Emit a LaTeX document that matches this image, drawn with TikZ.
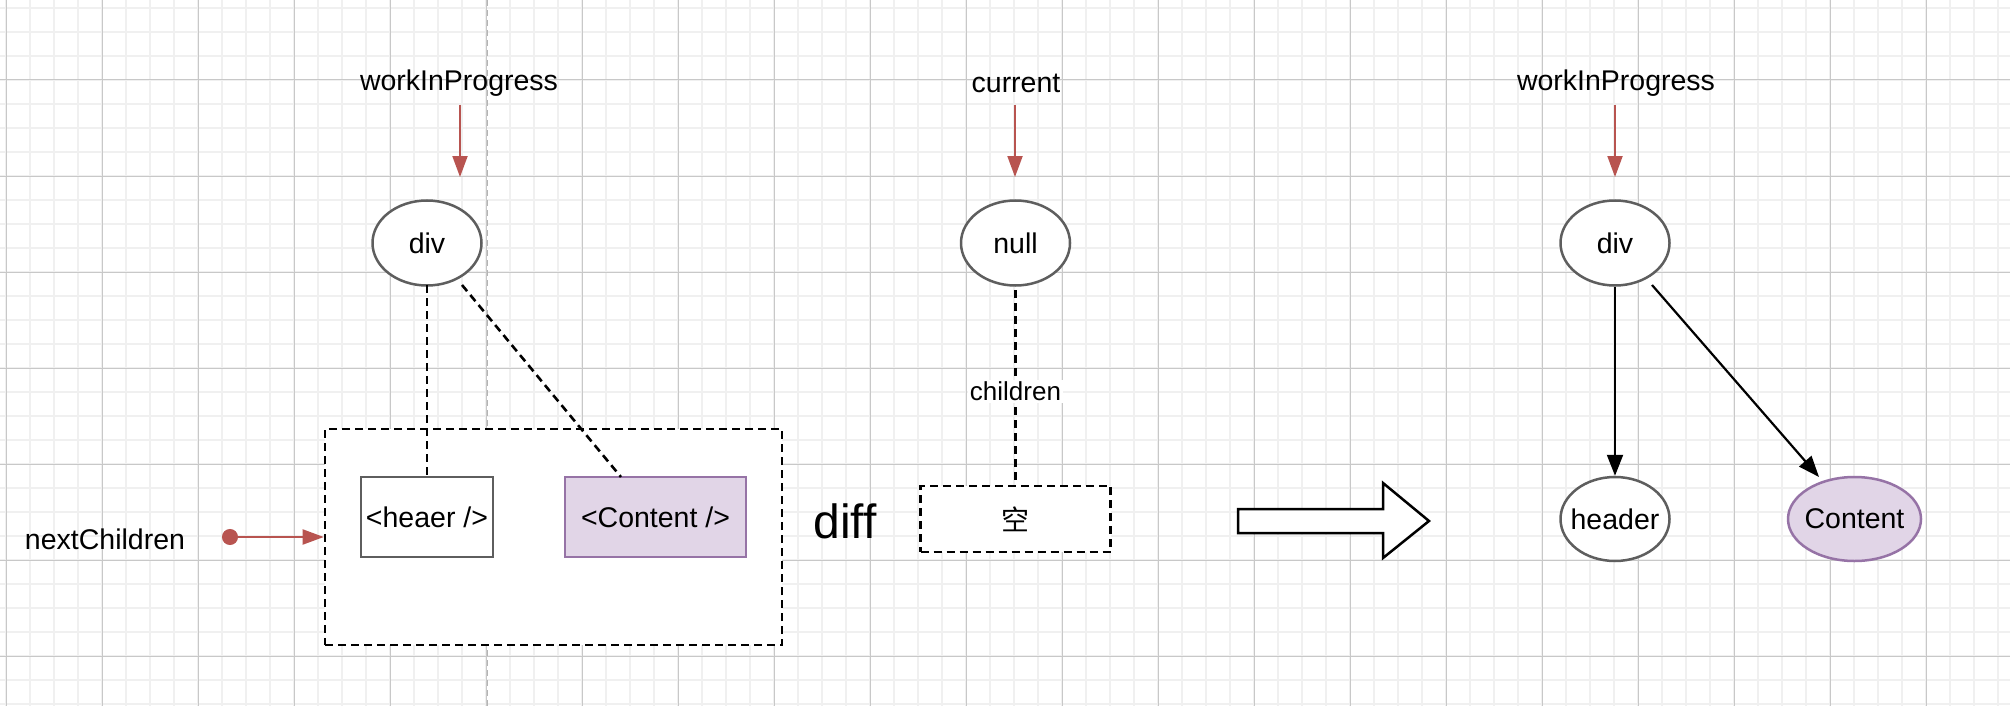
\documentclass[tikz,border=0pt]{standalone}
\usepackage{fontspec}
\setmainfont{Liberation Sans}
\newfontfamily\cjk{Noto Sans CJK SC}
\usetikzlibrary{arrows.meta,shapes.geometric}
\definecolor{gridmajor}{HTML}{C8C8C8}
\definecolor{gridminor}{HTML}{F0F0F0}
\definecolor{redline}{HTML}{B85450}
\definecolor{purplefill}{HTML}{E1D5E7}
\definecolor{purpleline}{HTML}{9673A6}
\definecolor{grayline}{HTML}{5E5E5E}
\newcommand{\zb}[1]{\makebox[0pt]{#1}}
\tikzset{
  lbl/.style={inner sep=0pt, font=\fontsize{28.5}{34}\selectfont},
  oval/.style={ellipse, draw=grayline, fill=white, line width=2.5pt, inner sep=0pt,
    minimum width=109pt, minimum height=85pt, font=\fontsize{28.5}{34}\selectfont},
  boxnode/.style={rectangle, draw=grayline, fill=white, line width=2.5pt, inner sep=0pt,
    minimum width=132pt, minimum height=80pt, font=\fontsize{28.5}{34}\selectfont},
  purple/.style={draw=purpleline, fill=purplefill},
  dashbox/.style={rectangle, draw=black, fill=white, line width=2.6pt, inner sep=0pt,
    dash pattern=on 8pt off 5pt},
  dashline/.style={draw=black, line width=2.6pt, dash pattern=on 8pt off 5pt},
  redarrow/.style={draw=redline, line width=2pt, -{Triangle[length=21pt,width=15pt]}, redline},
  blackarrow/.style={draw=black, line width=2.2pt, -{Triangle[length=21pt,width=16pt]}},
}
\begin{document}
\begin{tikzpicture}[x=1pt,y=-1pt]
\useasboundingbox (0,0) rectangle (2010,706);
% grid
\begin{scope}
\clip (0,0) rectangle (2010,706);
\fill[white] (0,0) rectangle (2010,706);
\foreach \gx in {6,30,...,2010} \draw[gridminor, line width=1.5pt] (\gx,0) -- (\gx,706);
\foreach \gy in {8,32,...,706} \draw[gridminor, line width=1.5pt] (0,\gy) -- (2010,\gy);
\foreach \gx in {6,102,...,2010} \draw[gridmajor, line width=1pt] (\gx,0) -- (\gx,706);
\foreach \gy in {80,176,...,706} \draw[gridmajor, line width=1pt] (0,\gy) -- (2010,\gy);
\draw[gridmajor!90!black, line width=1pt, dash pattern=on 6pt off 4pt] (487,0) -- (487,706);
\end{scope}

% ---------- left part ----------
\node[lbl] (wip1) at (459,83) {workInProgress};
\coordinate (wa1) at (460,105);
\coordinate (wb1) at (460,177);
\draw[redarrow] (wa1) -- (wb1);
\node[oval] (div1) at (427,243) {\zb{div}};

\node[dashbox, minimum width=457pt, minimum height=216pt] (group) at (553.5,537) {};
\node[boxnode] (heaer) at (427,517) {<heaer />};
\node[boxnode, purple, minimum width=181pt] (content1) at (655.5,517) {<Content />};

\coordinate (d1a) at (427,285);
\coordinate (d1b) at (462,285);
\coordinate (c1t) at (621,477);
\draw[dashline] (d1a) -- (heaer.north);
\draw[dashline] (d1b) -- (c1t);

\node[lbl] (next) at (105,539) {nextChildren};
\coordinate (na) at (222,537);
\draw[draw=redline, line width=2pt, redline, {Circle[length=16pt]}-{Triangle[length=21pt,width=15pt]}] (na) -- (group.west |- na);

% ---------- middle ----------
\node[lbl] (cur) at (1016,83) {current};
\coordinate (ca) at (1015,105);
\coordinate (cb) at (1015,177);
\draw[redarrow] (ca) -- (cb);
\node[oval] (null) at (1015.5,243) {\zb{null}};
\node[dashbox, minimum width=190pt, minimum height=66pt, font=\cjk\fontsize{28}{34}\selectfont] (empty) at (1015.5,519) {空};
\coordinate (nb) at (1015.5,290);
\draw[dashline] (nb) -- (nb |- empty.north)
  node[pos=0.52, fill=white, inner sep=2pt, font=\fontsize{26}{30}\selectfont] (childlbl) {children};
\node[lbl, font=\fontsize{48}{56}\selectfont] (diff) at (845,521) {diff};

\draw[black, line width=2.5pt, fill=white, line join=miter]
  (1238,509) -- (1383,509) -- (1383,483) -- (1429,521) -- (1383,558) -- (1383,533) -- (1238,533) -- cycle;

% ---------- right ----------
\node[lbl] (wip2) at (1616,83) {workInProgress};
\coordinate (wa2) at (1615,105);
\coordinate (wb2) at (1615,177);
\draw[redarrow] (wa2) -- (wb2);
\node[oval] (div2) at (1615,243) {\zb{div}};
\node[oval, minimum height=84pt] (header) at (1615,519) {\zb{header}};
\node[oval, purple, minimum width=133pt, minimum height=84pt] (content2) at (1854.5,519) {\zb{Content}};
\coordinate (d2b) at (1652,285);
\coordinate (c2t) at (1819,477);
\draw[blackarrow] (div2.south) -- (header.north);
\draw[blackarrow] (d2b) -- (c2t);
\end{tikzpicture}
\end{document}
